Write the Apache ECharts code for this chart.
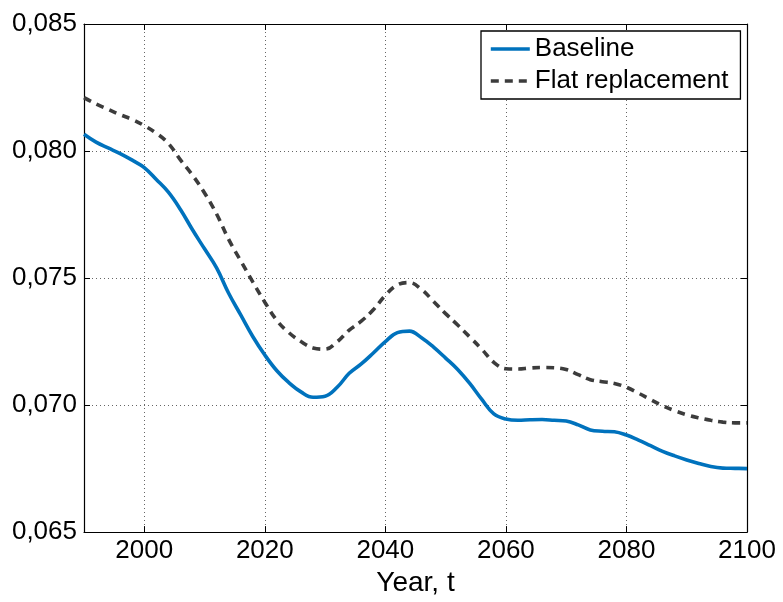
<!DOCTYPE html>
<html>
<head>
<meta charset="utf-8">
<script src="https://cdn.jsdelivr.net/npm/echarts@6/dist/echarts.min.js"></script>
<style>html,body{margin:0;padding:0;background:#fff}#c{width:783px;height:602px}</style>
</head>
<body>
<div id="c"></div>
<script>
const years = [1990,1992,1994,1996,1998,2000,2002,2004,2006,2008,2010,2012,2014,2016,2018,2020,2022,2024,2026,2028,2030,2032,2034,2036,2038,2040,2042,2044,2046,2048,2050,2052,2054,2056,2058,2060,2062,2064,2066,2068,2070,2072,2074,2076,2078,2080,2082,2084,2086,2088,2090,2092,2094,2096,2098,2100];
const baseline = [0.08066,0.08035,0.08012,0.07990,0.07964,0.07935,0.07888,0.07838,0.07770,0.07690,0.07615,0.07540,0.07440,0.07355,0.07270,0.07197,0.07135,0.07088,0.07052,0.07031,0.07035,0.07070,0.07125,0.07162,0.07205,0.07250,0.07285,0.07291,0.07265,0.07228,0.07185,0.07140,0.07085,0.07022,0.06965,0.06945,0.06940,0.06942,0.06943,0.06940,0.06937,0.06922,0.06902,0.06897,0.06895,0.06882,0.06862,0.06840,0.06818,0.06800,0.06784,0.06770,0.06758,0.06752,0.06751,0.06750];
const flatReplacement = [0.08210,0.08185,0.08164,0.08143,0.08124,0.08100,0.08070,0.08030,0.07965,0.07905,0.07835,0.07752,0.07652,0.07568,0.07485,0.07405,0.07333,0.07285,0.07250,0.07225,0.07220,0.07249,0.07295,0.07330,0.07375,0.07432,0.07473,0.07482,0.07455,0.07408,0.07360,0.07315,0.07268,0.07220,0.07168,0.07143,0.07142,0.07146,0.07148,0.07147,0.07140,0.07120,0.07100,0.07092,0.07085,0.07070,0.07047,0.07022,0.06998,0.06978,0.06962,0.06950,0.06940,0.06933,0.06930,0.06930];
const xTicks = [2000,2020,2040,2060,2080,2100];
const seriesNames = ['Baseline','Flat replacement'];

const FONT = '"Liberation Sans", Arial, Helvetica, sans-serif';
const chart = echarts.init(document.getElementById('c'), null, {renderer:'canvas'});
const pair = (ys) => years.map((y,i)=>[y, ys[i]]);
const gridLine = {show:true, lineStyle:{type:[1,3], color:'#666', width:1}};
const axLine = {show:true, onZero:false, lineStyle:{color:'#000', width:1.2}};
chart.setOption({
  animation:false,
  backgroundColor:'#fff',
  grid:{left:84, right:36, top:24, bottom:67, containLabel:false},
  legend:{
    show:true,
    data:seriesNames,
    orient:'vertical',
    left:481, top:31,
    padding:[3,12,3,8],
    itemWidth:39, itemHeight:14, itemGap:2,
    borderColor:'#000', borderWidth:1.3, borderRadius:0,
    backgroundColor:'#fff',
    itemStyle:{opacity:0},
    lineStyle:{width:3.6},
    textStyle:{fontFamily:FONT, fontSize:26, color:'#000', lineHeight:30}
  },
  xAxis:[{
    type:'value', min:1990, max:2100, position:'bottom',
    axisLine:axLine,
    axisTick:{show:true, inside:true, length:6, customValues:xTicks, lineStyle:{color:'#000'}},
    axisLabel:{customValues:xTicks, fontFamily:FONT, fontSize:26, color:'#000', margin:6, formatter:v=>String(v)},
    splitLine:gridLine,
    name:'Year, t', nameLocation:'middle', nameGap:33,
    nameTextStyle:{fontFamily:FONT, fontSize:28, color:'#000'}
  },{
    type:'value', min:1990, max:2100, position:'top',
    axisLine:axLine,
    axisTick:{show:true, inside:true, length:6, customValues:xTicks, lineStyle:{color:'#000'}},
    axisLabel:{show:false}, splitLine:{show:false}
  }],
  yAxis:[{
    type:'value', min:0.065, max:0.085, interval:0.005, position:'left',
    axisLine:axLine,
    axisTick:{show:true, inside:true, length:6, lineStyle:{color:'#000'}},
    axisLabel:{fontFamily:FONT, fontSize:26, color:'#000', margin:7, formatter:v=>v.toFixed(3).replace('.',',')},
    splitLine:gridLine
  },{
    type:'value', min:0.065, max:0.085, interval:0.005, position:'right',
    axisLine:axLine,
    axisTick:{show:true, inside:true, length:6, lineStyle:{color:'#000'}},
    axisLabel:{show:false}, splitLine:{show:false}
  }],
  series:[{
    name:seriesNames[0], type:'line', data:pair(baseline), smooth:0.4, symbol:'none',
    lineStyle:{color:'#0072BD', width:3.6}, itemStyle:{color:'#0072BD'}, z:3
  },{
    name:seriesNames[1], type:'line', data:pair(flatReplacement), smooth:0.4, symbol:'none',
    lineStyle:{color:'#3c3c3c', width:3.6, type:[8,6]}, itemStyle:{color:'#3c3c3c'}, z:2
  }]
});
</script>
</body>
</html>
